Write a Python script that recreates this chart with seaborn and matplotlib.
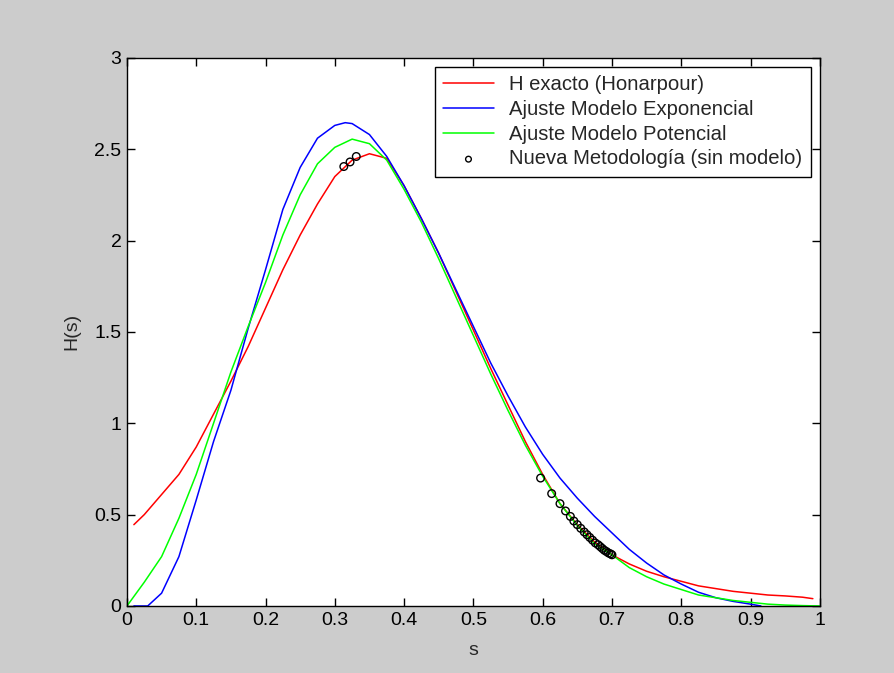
import seaborn as sns
import matplotlib.pyplot as plt
import pandas as pd
from matplotlib.ticker import FormatStrFormatter

# H exacto (Honarpour)
s_red = [0.01, 0.025, 0.05, 0.075, 0.1, 0.125, 0.15, 0.175, 0.2, 0.225, 0.25, 0.275,
         0.3, 0.325, 0.35, 0.375, 0.4, 0.425, 0.45, 0.475, 0.5, 0.525, 0.55, 0.575,
         0.6, 0.625, 0.65, 0.675, 0.7, 0.725, 0.75, 0.775, 0.8, 0.825, 0.85, 0.875,
         0.9, 0.925, 0.95, 0.975, 0.99]
h_red = [0.445, 0.5, 0.61, 0.72, 0.87, 1.05, 1.23, 1.42, 1.63, 1.84, 2.03, 2.2,
         2.35, 2.44, 2.475, 2.45, 2.3, 2.12, 1.93, 1.72, 1.51, 1.3, 1.1, 0.9,
         0.72, 0.56, 0.445, 0.35, 0.28, 0.23, 0.19, 0.16, 0.135, 0.11, 0.095, 0.08,
         0.07, 0.06, 0.055, 0.048, 0.04]

# Ajuste Modelo Exponencial
s_blue = [0.01, 0.03, 0.05, 0.075, 0.1, 0.125, 0.15, 0.175, 0.2, 0.225, 0.25, 0.275,
          0.3, 0.315, 0.325, 0.35, 0.375, 0.4, 0.425, 0.45, 0.475, 0.5, 0.525, 0.55,
          0.575, 0.6, 0.625, 0.65, 0.675, 0.7, 0.725, 0.75, 0.775, 0.8, 0.825, 0.85,
          0.875, 0.9, 0.915]
h_blue = [0.0, 0.0, 0.07, 0.27, 0.58, 0.9, 1.18, 1.52, 1.84, 2.17, 2.4, 2.56,
          2.63, 2.645, 2.64, 2.58, 2.46, 2.3, 2.12, 1.93, 1.73, 1.53, 1.33, 1.15,
          0.98, 0.83, 0.7, 0.59, 0.49, 0.4, 0.31, 0.235, 0.17, 0.12, 0.075, 0.045,
          0.025, 0.01, 0.0]

# Ajuste Modelo Potencial
s_green = [0.0, 0.025, 0.05, 0.075, 0.1, 0.125, 0.15, 0.175, 0.2, 0.225, 0.25, 0.275,
           0.3, 0.325, 0.35, 0.375, 0.4, 0.425, 0.45, 0.475, 0.5, 0.525, 0.55, 0.575,
           0.6, 0.625, 0.65, 0.675, 0.7, 0.725, 0.75, 0.775, 0.8, 0.825, 0.85, 0.875,
           0.9, 0.925, 0.95, 0.975, 1.0]
h_green = [0.0, 0.13, 0.27, 0.48, 0.72, 1.0, 1.28, 1.53, 1.77, 2.03, 2.25, 2.42,
           2.51, 2.555, 2.53, 2.44, 2.28, 2.1, 1.9, 1.69, 1.48, 1.27, 1.07, 0.88,
           0.71, 0.56, 0.44, 0.34, 0.28, 0.21, 0.16, 0.12, 0.09, 0.06, 0.045, 0.03,
           0.02, 0.01, 0.005, 0.002, 0.0]

# Nueva Metodologia (sin modelo)
s_pts = [0.313, 0.322, 0.331,
         0.597, 0.613, 0.625, 0.633, 0.64, 0.645, 0.65, 0.655, 0.66, 0.664, 0.668,
         0.672, 0.676, 0.68, 0.683, 0.686, 0.689, 0.692, 0.695, 0.698, 0.70]
h_pts = [2.405, 2.43, 2.46,
         0.70, 0.615, 0.56, 0.52, 0.49, 0.465, 0.445, 0.425, 0.405, 0.39, 0.375,
         0.36, 0.345, 0.335, 0.325, 0.315, 0.305, 0.298, 0.29, 0.285, 0.28]

sns.set_style("ticks")
plt.rcParams["font.family"] = ["Liberation Sans", "DejaVu Sans"]

fig = plt.figure(figsize=(8.94, 6.73), dpi=100, facecolor="#cccccc")
ax = fig.add_axes([0.142, 0.0996, 0.775, 0.8145])
ax.set_facecolor("white")

sns.lineplot(x=s_red, y=h_red, color="#ff0000", lw=1.1, ax=ax,
             label="H exacto (Honarpour)", estimator=None, sort=False)
sns.lineplot(x=s_blue, y=h_blue, color="#0000ff", lw=1.1, ax=ax,
             label="Ajuste Modelo Exponencial", estimator=None, sort=False)
sns.lineplot(x=s_green, y=h_green, color="#00ff00", lw=1.1, ax=ax,
             label="Ajuste Modelo Potencial", estimator=None, sort=False)
sns.scatterplot(x=s_pts, y=h_pts, marker="o", s=30, facecolors="none",
                edgecolors="black", linewidths=1.0, ax=ax,
                label="Nueva Metodología (sin modelo)", zorder=5)

ax.set_xlim(0, 1)
ax.set_ylim(0, 3)
ax.set_xticks([i / 10 for i in range(11)])
ax.set_yticks([0, 0.5, 1, 1.5, 2, 2.5, 3])
ax.xaxis.set_major_formatter(FormatStrFormatter("%g"))
ax.yaxis.set_major_formatter(FormatStrFormatter("%g"))
ax.tick_params(direction="in", length=6, width=1, top=True, right=True,
               labelsize=14, colors="black", pad=4)
for sp in ax.spines.values():
    sp.set_visible(True)
    sp.set_color("black")
    sp.set_linewidth(1)

ax.set_xlabel("s", fontsize=14, labelpad=10)
ax.set_ylabel("H(s)", fontsize=14, labelpad=10)

leg = ax.legend(loc="upper right", fontsize=14.6, frameon=True, fancybox=False,
                edgecolor="black", framealpha=1, borderpad=0.42, labelspacing=0.28,
                handlelength=2.5, handletextpad=0.75, borderaxespad=0.45,
                markerscale=0.75)
leg.get_frame().set_linewidth(1)

fig.savefig("out.png", dpi=100, facecolor=fig.get_facecolor())
